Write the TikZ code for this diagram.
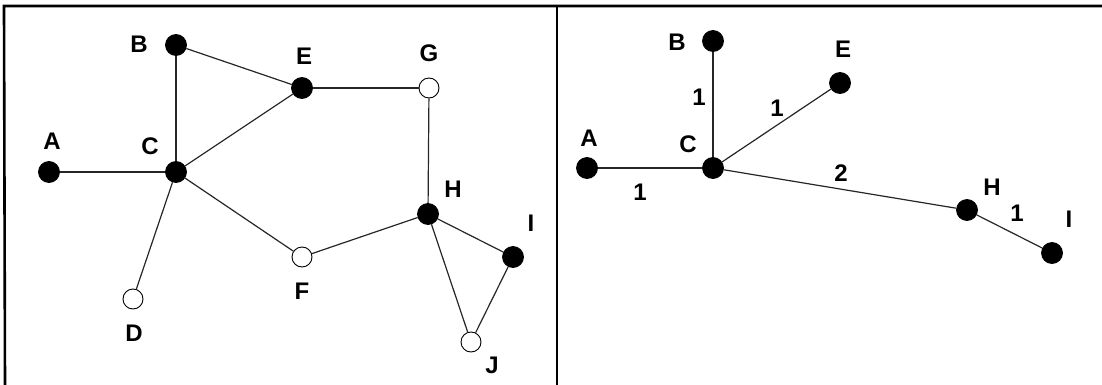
\documentclass[tikz,border=0pt]{standalone}
\usepackage{fontspec}
\setmainfont{Liberation Sans}
\begin{document}
\begin{tikzpicture}[x=1pt,y=-1pt,
  vfull/.style={circle,draw=black,fill=black,line width=0.8pt,minimum size=21pt,inner sep=0pt},
  vopen/.style={circle,draw=black,fill=white,line width=0.9pt,minimum size=20pt,inner sep=0pt},
  lbl/.style={font=\fontsize{24}{24}\selectfont\bfseries,inner sep=0pt,anchor=center},
  edge/.style={line width=1.2pt,draw=black!85},
  frame/.style={line width=2.6pt,draw=black}]
\useasboundingbox (0,0) rectangle (1102,385);
% frame
\coordinate (tl) at (4,6);
\coordinate (tr) at (1102,6);
\coordinate (bl) at (5,385);
\coordinate (dt) at (557,6);
\coordinate (db) at (557,385);
\draw[frame] (tr) -- (tl) -- (bl);
\draw[frame] (dt) -- (db);
% left graph
\node[vfull] (A) at (49,172) {};
\node[vfull] (B) at (176,45) {};
\node[vfull] (C) at (176,172) {};
\node[vopen] (D) at (133,299) {};
\node[vfull] (E) at (302,88) {};
\node[vopen] (F) at (302,257) {};
\node[vopen] (G) at (429,88) {};
\node[vfull] (H) at (428,214) {};
\node[vfull] (I) at (513,257) {};
\node[vopen] (J) at (471,342) {};
\draw[edge] (A) -- (C);
\draw[edge] (B) -- (C);
\draw[edge] (B) -- (E);
\draw[edge] (C) -- (E);
\draw[edge] (E) -- (G);
\draw[edge] (G) -- (H);
\draw[edge] (C) -- (D);
\draw[edge] (C) -- (F);
\draw[edge] (F) -- (H);
\draw[edge] (H) -- (I);
\draw[edge] (H) -- (J);
\draw[edge] (I) -- (J);
\node[lbl] (lA) at (52,141) {A};
\node[lbl] (lB) at (139,44) {B};
\node[lbl] (lC) at (150,146) {C};
\node[lbl] (lD) at (134,333) {D};
\node[lbl] (lE) at (304,56) {E};
\node[lbl] (lF) at (302,291) {F};
\node[lbl] (lG) at (429,53) {G};
\node[lbl] (lH) at (453,189) {H};
\node[lbl] (lI) at (531,223) {I};
\node[lbl] (lJ) at (492,365) {J};
% right graph (tree)
\node[vfull] (rA) at (587,168) {};
\node[vfull] (rB) at (713,41) {};
\node[vfull] (rC) at (713,168) {};
\node[vfull] (rE) at (840,83) {};
\node[vfull] (rH) at (967,210) {};
\node[vfull] (rI) at (1052,253) {};
\draw[edge] (rA) -- (rC);
\draw[edge] (rB) -- (rC);
\draw[edge] (rC) -- (rE);
\draw[edge] (rC) -- (rH);
\draw[edge] (rH) -- (rI);
\node[lbl] (rlA) at (589,138) {A};
\node[lbl] (rlB) at (677,42) {B};
\node[lbl] (rlC) at (688,144) {C};
\node[lbl] (rlE) at (843,49) {E};
\node[lbl] (rlH) at (992,187) {H};
\node[lbl] (rlI) at (1069,219) {I};
\node[lbl] (wAC) at (640,192) {1};
\node[lbl] (wBC) at (699,97) {1};
\node[lbl] (wCE) at (777,108) {1};
\node[lbl] (wCH) at (841,173) {2};
\node[lbl] (wHI) at (1017,213) {1};
\end{tikzpicture}
\end{document}
